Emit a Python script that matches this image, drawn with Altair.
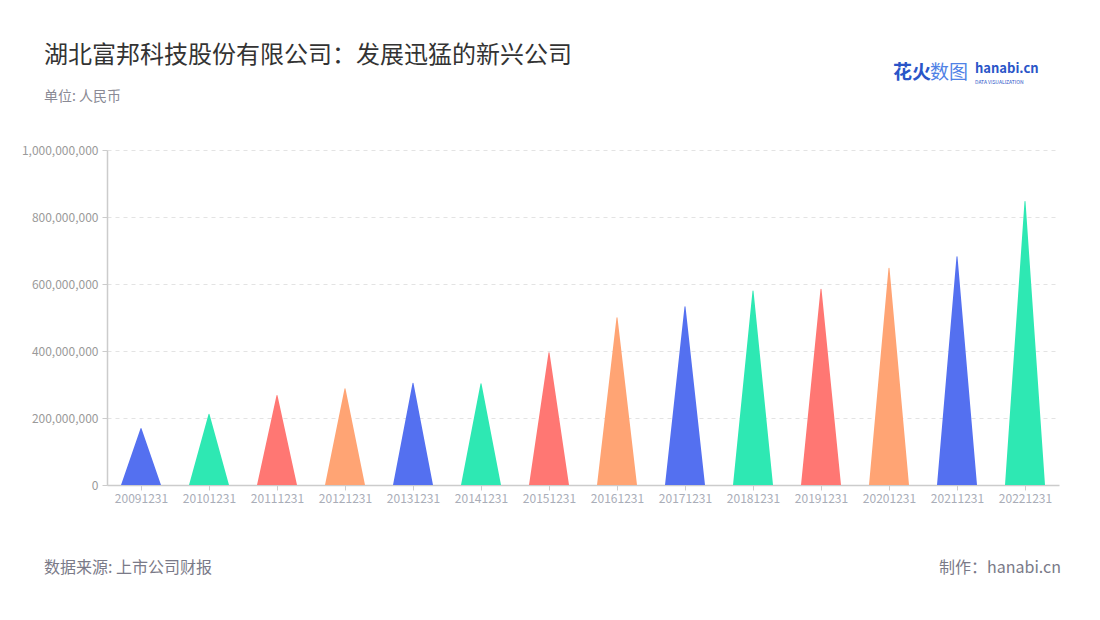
import altair as alt
import pandas as pd

# ---- data ----
dates = ["20091231", "20101231", "20111231", "20121231", "20131231", "20141231", "20151231",
         "20161231", "20171231", "20181231", "20191231", "20201231", "20211231", "20221231"]
values = [169e6, 211e6, 267e6, 287e6, 304e6, 302e6, 395e6,
          499e6, 532e6, 579e6, 584e6, 647e6, 681e6, 846e6]
palette = ["#5470f0", "#2ee8b3", "#ff7773", "#ffa474"]
y_ticks = [0, 200000000, 400000000, 600000000, 800000000, 1000000000]

TITLE = "湖北富邦科技股份有限公司：发展迅猛的新兴公司"
SUBTITLE = "单位: 人民币"
SOURCE = "数据来源: 上市公司财报"
MAKER = "制作：hanabi.cn"

FONT = "Noto Sans CJK SC"

rows = []
for d, v in zip(dates, values):
    rows.append({"date": d, "end": "base", "value": 0.0})
    rows.append({"date": d, "end": "tip", "value": v})
df = pd.DataFrame(rows)
colors = [palette[i % len(palette)] for i in range(len(dates))]

spikes = alt.Chart(df).mark_trail(clip=True).encode(
    x=alt.X("date:N", sort=dates, scale=alt.Scale(domain=dates),
            axis=alt.Axis(title=None, labelAngle=0, labelColor="#a9adb8", labelFontSize=12,
                          labelFont=FONT, tickColor="#cccccc", domainColor="#cccccc",
                          domainWidth=1.5, tickSize=5, labelPadding=3, grid=False)),
    y=alt.Y("value:Q", scale=alt.Scale(domain=[0, 1000000000], nice=False),
            axis=alt.Axis(title=None, values=y_ticks, format=",.0f", labelColor="#9a9a9a",
                          labelFontSize=12, labelFont=FONT, tickColor="#cccccc",
                          domainColor="#cccccc", domainWidth=1.5, tickSize=5, labelPadding=4,
                          grid=True, gridColor="#e3e3e3", gridDash=[4, 4], gridWidth=1)),
    size=alt.Size("end:O", scale=alt.Scale(domain=["base", "tip"], range=[40, 0]), legend=None),
    color=alt.Color("date:N", scale=alt.Scale(domain=dates, range=colors), legend=None),
    detail="date:N",
    order=alt.Order("value:Q"),
)


def label(text, x, y, size, color, align="left", weight="normal"):
    return alt.Chart(pd.DataFrame({"t": [text]})).mark_text(
        align=align, baseline="alphabetic", fontSize=size, color=color,
        font=FONT, fontWeight=weight
    ).encode(x=alt.value(x), y=alt.value(y), text="t:N")


title = label(TITLE, -63, -87, 24, "#333333")
subtitle = label(SUBTITLE, -63, -49, 14, "#8a8a95")
source = label(SOURCE, -63, 423, 16, "#7a7a88")
maker = label(MAKER, 954, 423, 16, "#7a7a88", align="right")
logo1 = label("花火", 786, -71, 19, "#2a55c8", weight="bold")
logo2 = label("数图", 823, -71, 19, "#4f82e6")
logo3 = label("hanabi.cn", 868, -77, 13, "#2a55c8", weight="bold")
logo4 = label("DATA VISUALIZATION", 868, -66, 5, "#2a55c8")

chart = alt.layer(spikes, title, subtitle, source, maker, logo1, logo2, logo3, logo4).properties(
    width=952, height=335,
    autosize=alt.AutoSizeParams(type="none"),
    padding={"left": 99, "top": 142, "right": 30, "bottom": 120},
).configure(background="white").configure_view(stroke=None)

chart.save("out.html", embed_options={"renderer": "svg", "actions": False})
